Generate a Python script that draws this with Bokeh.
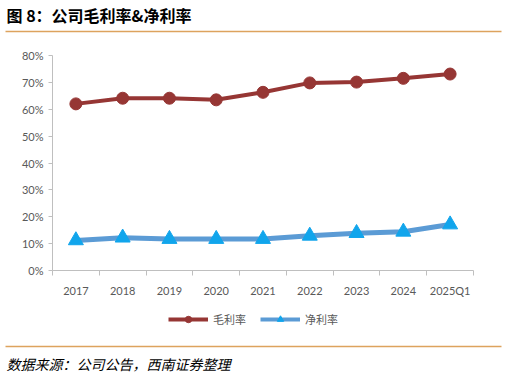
from bokeh.plotting import figure
from bokeh.layouts import column
from bokeh.models import (Range1d, FixedTicker, Label, BoxAnnotation, Legend, LegendItem, ColumnDataSource)
from bokeh.embed import file_html
from bokeh.resources import INLINE

categories = ["2017", "2018", "2019", "2020", "2021", "2022", "2023", "2024", "2025Q1"]
gross_margin = [0.620, 0.641, 0.641, 0.635, 0.663, 0.698, 0.701, 0.715, 0.731]
net_margin = [0.112, 0.122, 0.117, 0.117, 0.117, 0.129, 0.139, 0.144, 0.171]
y_ticks = [0.0, 0.1, 0.2, 0.3, 0.4, 0.5, 0.6, 0.7, 0.8]
y_tick_labels = ["0%", "10%", "20%", "30%", "40%", "50%", "60%", "70%", "80%"]

title_text = "图 8：公司毛利率&净利率"
source_text = "数据来源：公司公告，西南证券整理"
gross_name = "毛利率"
net_name = "净利率"

CJK = "Noto Sans CJK SC"
TICK_FONT = "Lato"
GROSS_COLOR = "#963634"
NET_LINE_COLOR = "#5B9BD5"
NET_MARKER_COLOR = "#11A5EC"
RULE_COLOR = "#DDA35E"
W = 507


def blank_figure(h):
    f = figure(width=W, height=h, output_backend="svg", toolbar_location=None,
               x_range=Range1d(0, W), y_range=Range1d(h, 0),
               min_border=0, min_border_left=0, min_border_right=0,
               min_border_top=0, min_border_bottom=0,
               x_axis_location=None, y_axis_location=None, frame_align=False)
    f.outline_line_color = None
    f.grid.visible = False
    return f


# ---- header ----
head = blank_figure(38)
head.add_layout(Label(x=6, y=14, text=title_text, text_font=CJK, text_font_style="bold",
                      text_font_size="16px", text_color="black", text_baseline="middle"))
head.add_layout(BoxAnnotation(left=5, right=501, top=30.3, bottom=31.7,
                              fill_color=RULE_COLOR, fill_alpha=1, line_color=None))

# ---- main chart ----
n = len(categories)
xs = [i + 0.5 for i in range(n)]
src = ColumnDataSource(dict(x=xs, gross=gross_margin, net=net_margin))

p = figure(width=W, height=262, output_backend="svg", toolbar_location=None,
           x_range=Range1d(0, n), y_range=Range1d(0, 0.8), frame_align=False,
           min_border_left=52, min_border_right=34, min_border_top=17, min_border_bottom=30)
p.outline_line_color = None
p.grid.visible = False

xa = p.xaxis[0]
xa.ticker = FixedTicker(ticks=xs, minor_ticks=list(range(n + 1)))
xa.major_label_overrides = {x: c for x, c in zip(xs, categories)}
xa.major_tick_line_color = None
xa.minor_tick_line_color = "#BFBFBF"
xa.minor_tick_out = 5
xa.minor_tick_in = 0
xa.axis_line_color = "#BFBFBF"
xa.major_label_text_font = TICK_FONT
xa.major_label_text_font_size = "11px"
xa.major_label_text_color = "#595959"
xa.major_label_standoff = 7

ya = p.yaxis[0]
ya.ticker = FixedTicker(ticks=y_ticks)
ya.major_label_overrides = {t: l for t, l in zip(y_ticks, y_tick_labels)}
ya.minor_tick_line_color = None
ya.major_tick_line_color = "#BFBFBF"
ya.major_tick_out = 4
ya.major_tick_in = 0
ya.axis_line_color = "#BFBFBF"
ya.major_label_text_font = TICK_FONT
ya.major_label_text_font_size = "11px"
ya.major_label_text_color = "#595959"
ya.major_label_standoff = 5

p.line("x", "gross", source=src, line_color=GROSS_COLOR, line_width=4)
p.scatter("x", "gross", source=src, marker="circle", size=12,
          fill_color=GROSS_COLOR, line_color=GROSS_COLOR)
p.line("x", "net", source=src, line_color=NET_LINE_COLOR, line_width=5)
p.scatter("x", "net", source=src, marker="triangle", size=15,
          fill_color=NET_MARKER_COLOR, line_color=NET_MARKER_COLOR)

# ---- footer: legend + source ----
FH = 78
foot = blank_figure(FH)
proxy = ColumnDataSource(dict(x=[float("nan")], y=[float("nan")]))
lg1 = foot.line("x", "y", source=proxy, line_color=GROSS_COLOR, line_width=4)
lg1m = foot.scatter("x", "y", source=proxy, marker="circle", size=8,
                    fill_color=GROSS_COLOR, line_color=GROSS_COLOR)
lg2 = foot.line("x", "y", source=proxy, line_color=NET_LINE_COLOR, line_width=4)
lg2m = foot.scatter("x", "y", source=proxy, marker="triangle", size=9,
                    fill_color=NET_MARKER_COLOR, line_color=NET_MARKER_COLOR)
legend = Legend(items=[LegendItem(label=gross_name, renderers=[lg1, lg1m]),
                       LegendItem(label=net_name, renderers=[lg2, lg2m])],
                location=(168, FH - 27), orientation="horizontal",
                glyph_width=40, glyph_height=16, label_height=16,
                label_text_font=CJK, label_text_font_size="11px", label_text_color="#595959",
                padding=0, margin=0, spacing=14, label_standoff=5,
                border_line_color=None, background_fill_alpha=0)
foot.add_layout(legend)
foot.add_layout(BoxAnnotation(left=5, right=501, top=45.3, bottom=46.7,
                              fill_color=RULE_COLOR, fill_alpha=1, line_color=None))
foot.add_layout(Label(x=6, y=63, text=source_text, text_font=CJK, text_font_style="italic",
                      text_font_size="14px", text_color="black", text_baseline="middle"))

layout = column(head, p, foot, spacing=0)
open("out.html", "w").write(file_html(layout, INLINE))
